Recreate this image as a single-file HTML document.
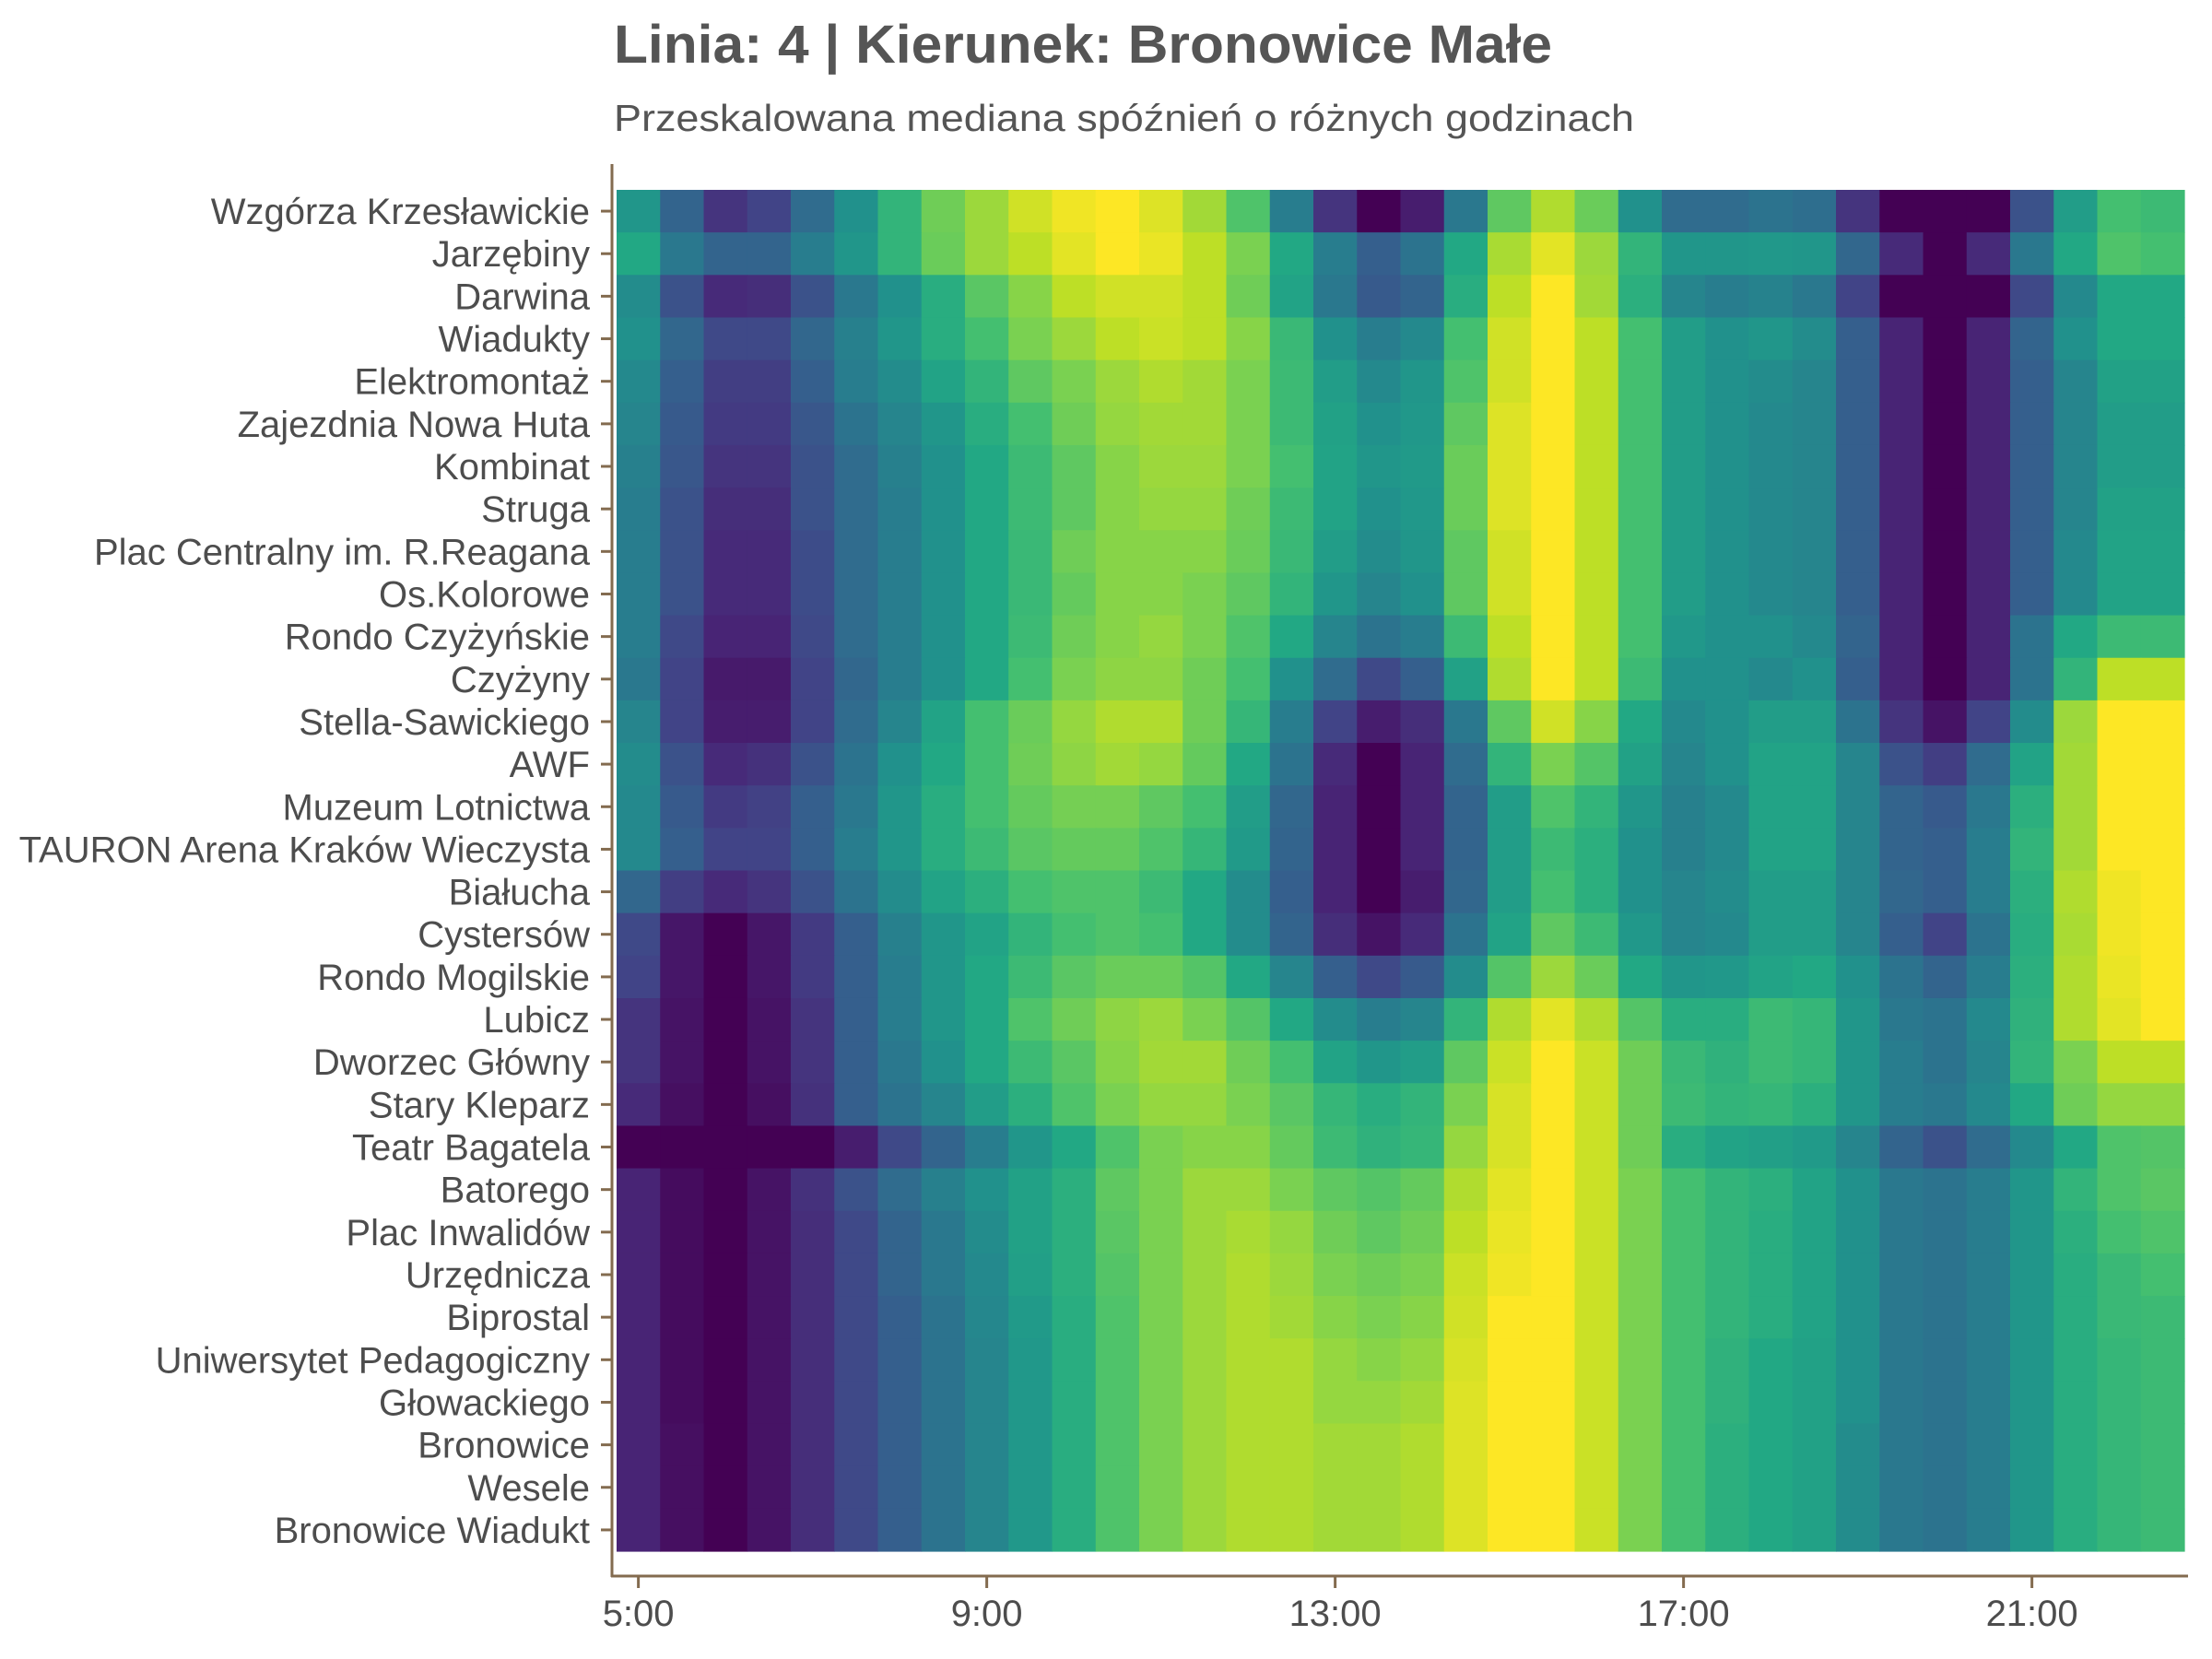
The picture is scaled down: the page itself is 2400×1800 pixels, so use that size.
<!DOCTYPE html>
<html><head><meta charset="utf-8"><style>
html,body{margin:0;padding:0;background:#fff;}
svg{display:block;font-family:"Liberation Sans",sans-serif;}
</style></head><body>
<svg id="chart" width="2400" height="1800" viewBox="0 0 2400 1800" xmlns="http://www.w3.org/2000/svg">
<text x="666" y="68" font-size="58" font-weight="bold" fill="#555555" textLength="1018" lengthAdjust="spacingAndGlyphs">Linia: 4 | Kierunek: Bronowice Małe</text>
<text x="666" y="142" font-size="41" fill="#555555" textLength="1107" lengthAdjust="spacingAndGlyphs">Przeskalowana mediana spóźnień o różnych godzinach</text>
<g id="cells"></g>
<g id="yaxis"></g>
<g id="xaxis"></g>
</svg>
<script>
const stops = ["Wzgórza Krzesławickie","Jarzębiny","Darwina","Wiadukty","Elektromontaż","Zajezdnia Nowa Huta","Kombinat","Struga","Plac Centralny im. R.Reagana","Os.Kolorowe","Rondo Czyżyńskie","Czyżyny","Stella-Sawickiego","AWF","Muzeum Lotnictwa","TAURON Arena Kraków Wieczysta","Białucha","Cystersów","Rondo Mogilskie","Lubicz","Dworzec Główny","Stary Kleparz","Teatr Bagatela","Batorego","Plac Inwalidów","Urzędnicza","Biprostal","Uniwersytet Pedagogiczny","Głowackiego","Bronowice","Wesele","Bronowice Wiadukt"];
const hours = [5,5.5,6,6.5,7,7.5,8,8.5,9,9.5,10,10.5,11,11.5,12,12.5,13,13.5,14,14.5,15,15.5,16,16.5,17,17.5,18,18.5,19,19.5,20,20.5,21,21.5,22,22.5];
const tickHours = [5,9,13,17,21];
const tickLabels = ["5:00","9:00","13:00","17:00","21:00"];
const values = [
[0.52,0.32,0.15,0.2,0.35,0.5,0.65,0.78,0.85,0.93,0.98,1.0,0.95,0.86,0.72,0.42,0.15,0.0, 0.08,0.4,0.75,0.88,0.77,0.5,0.35,0.35,0.38,0.36,0.15,0.0,0.0,0.0,0.25,0.55,0.7,0.68],
[0.6,0.4,0.32,0.32,0.42,0.52,0.65,0.77,0.85,0.9,0.96,1.0,0.97,0.9,0.8,0.6,0.42,0.3, 0.38,0.6,0.87,0.96,0.85,0.65,0.52,0.52,0.53,0.52,0.33,0.12,0.0,0.12,0.4,0.6,0.72,0.7],
[0.48,0.25,0.12,0.13,0.25,0.4,0.5,0.62,0.74,0.82,0.9,0.93,0.93,0.9,0.78,0.58,0.4,0.28, 0.32,0.62,0.9,1.0,0.86,0.63,0.45,0.42,0.44,0.4,0.2,0.0,0.0,0.0,0.22,0.47,0.6,0.6],
[0.5,0.33,0.22,0.22,0.33,0.43,0.52,0.62,0.7,0.8,0.85,0.9,0.92,0.9,0.82,0.67,0.5,0.42, 0.47,0.7,0.93,1.0,0.9,0.7,0.55,0.5,0.52,0.48,0.3,0.1,0.0,0.1,0.32,0.5,0.6,0.6],
[0.47,0.3,0.18,0.18,0.3,0.42,0.48,0.58,0.65,0.75,0.8,0.85,0.88,0.86,0.8,0.68,0.55,0.47, 0.52,0.72,0.93,1.0,0.9,0.7,0.55,0.5,0.48,0.45,0.3,0.1,0.0,0.1,0.3,0.45,0.57,0.57],
[0.45,0.28,0.17,0.17,0.27,0.38,0.45,0.52,0.62,0.7,0.78,0.84,0.86,0.86,0.8,0.68,0.57,0.5, 0.53,0.75,0.95,1.0,0.9,0.7,0.55,0.5,0.47,0.45,0.3,0.1,0.0,0.1,0.3,0.45,0.55,0.55],
[0.43,0.27,0.15,0.15,0.25,0.35,0.43,0.5,0.6,0.68,0.75,0.82,0.85,0.85,0.8,0.7,0.58,0.52, 0.54,0.77,0.95,1.0,0.9,0.7,0.55,0.5,0.47,0.45,0.3,0.1,0.0,0.1,0.3,0.45,0.55,0.55],
[0.42,0.25,0.13,0.13,0.25,0.35,0.42,0.5,0.6,0.68,0.75,0.82,0.84,0.84,0.78,0.68,0.58,0.5, 0.53,0.77,0.95,1.0,0.9,0.7,0.55,0.5,0.47,0.45,0.3,0.1,0.0,0.1,0.3,0.45,0.57,0.57],
[0.42,0.25,0.12,0.12,0.23,0.35,0.42,0.5,0.6,0.67,0.78,0.82,0.82,0.82,0.77,0.67,0.55,0.48, 0.52,0.75,0.93,1.0,0.9,0.7,0.55,0.5,0.47,0.45,0.3,0.1,0.0,0.1,0.3,0.47,0.58,0.58],
[0.42,0.25,0.12,0.12,0.23,0.35,0.42,0.5,0.6,0.67,0.76,0.82,0.82,0.8,0.75,0.65,0.52,0.45, 0.5,0.75,0.93,1.0,0.9,0.7,0.55,0.5,0.47,0.45,0.3,0.1,0.0,0.1,0.3,0.47,0.58,0.58],
[0.42,0.22,0.1,0.1,0.22,0.35,0.42,0.5,0.6,0.68,0.78,0.82,0.84,0.8,0.72,0.6,0.45,0.38, 0.42,0.68,0.9,1.0,0.9,0.7,0.53,0.5,0.5,0.47,0.32,0.1,0.0,0.1,0.38,0.6,0.68,0.68],
[0.4,0.2,0.07,0.07,0.2,0.33,0.42,0.5,0.6,0.7,0.8,0.83,0.83,0.78,0.7,0.5,0.35,0.22, 0.3,0.57,0.88,1.0,0.9,0.68,0.5,0.5,0.47,0.5,0.3,0.1,0.0,0.1,0.38,0.65,0.9,0.9],
[0.45,0.2,0.08,0.08,0.2,0.35,0.45,0.58,0.7,0.77,0.84,0.88,0.88,0.78,0.66,0.42,0.2,0.08, 0.13,0.4,0.75,0.93,0.82,0.6,0.47,0.5,0.55,0.55,0.38,0.15,0.05,0.2,0.48,0.85,1.0,1.0],
[0.48,0.25,0.12,0.14,0.25,0.38,0.5,0.6,0.7,0.78,0.83,0.86,0.84,0.76,0.6,0.38,0.12,0.0, 0.1,0.35,0.65,0.8,0.73,0.57,0.45,0.5,0.58,0.58,0.45,0.25,0.18,0.35,0.58,0.86,1.0,1.0],
[0.47,0.28,0.17,0.19,0.3,0.4,0.52,0.62,0.7,0.76,0.79,0.79,0.75,0.7,0.55,0.33,0.1,0.0, 0.1,0.32,0.55,0.72,0.65,0.52,0.43,0.47,0.58,0.58,0.45,0.32,0.28,0.4,0.63,0.86,1.0,1.0],
[0.47,0.3,0.2,0.2,0.3,0.42,0.52,0.62,0.68,0.74,0.76,0.76,0.72,0.66,0.54,0.32,0.1,0.0, 0.1,0.32,0.55,0.68,0.63,0.5,0.43,0.47,0.58,0.58,0.45,0.32,0.3,0.42,0.65,0.86,1.0,1.0],
[0.33,0.18,0.12,0.15,0.25,0.38,0.48,0.58,0.63,0.7,0.72,0.72,0.68,0.6,0.48,0.3,0.1,0.0, 0.08,0.33,0.55,0.7,0.63,0.5,0.45,0.48,0.55,0.55,0.45,0.33,0.3,0.42,0.63,0.88,0.98,1.0],
[0.22,0.06,0.0,0.06,0.17,0.3,0.43,0.52,0.58,0.65,0.7,0.72,0.7,0.6,0.48,0.32,0.13,0.05, 0.12,0.38,0.58,0.75,0.68,0.53,0.45,0.47,0.55,0.55,0.45,0.3,0.2,0.38,0.62,0.87,0.98,1.0],
[0.2,0.06,0.0,0.06,0.17,0.3,0.42,0.52,0.6,0.68,0.74,0.77,0.77,0.73,0.6,0.45,0.3,0.22, 0.28,0.48,0.73,0.85,0.77,0.6,0.52,0.53,0.58,0.6,0.5,0.38,0.32,0.42,0.63,0.88,0.97,1.0],
[0.15,0.05,0.0,0.05,0.15,0.3,0.42,0.52,0.6,0.72,0.78,0.83,0.85,0.8,0.73,0.6,0.48,0.42, 0.45,0.65,0.88,0.96,0.88,0.73,0.62,0.62,0.68,0.66,0.52,0.4,0.38,0.47,0.64,0.88,0.96,1.0],
[0.15,0.05,0.0,0.05,0.15,0.3,0.4,0.5,0.6,0.68,0.74,0.82,0.86,0.86,0.78,0.7,0.58,0.52, 0.55,0.75,0.92,1.0,0.92,0.78,0.67,0.64,0.68,0.66,0.52,0.42,0.38,0.45,0.65,0.8,0.9,0.9],
[0.12,0.04,0.0,0.04,0.14,0.3,0.38,0.45,0.55,0.63,0.72,0.8,0.84,0.84,0.8,0.74,0.66,0.62, 0.65,0.8,0.94,1.0,0.92,0.78,0.68,0.65,0.66,0.63,0.52,0.42,0.4,0.47,0.6,0.78,0.84,0.84],
[0.0,0.0,0.0,0.0,0.0,0.08,0.22,0.32,0.42,0.52,0.6,0.72,0.8,0.82,0.82,0.76,0.68,0.64, 0.66,0.84,0.94,1.0,0.92,0.78,0.62,0.58,0.56,0.54,0.45,0.32,0.25,0.35,0.47,0.6,0.72,0.73],
[0.1,0.03,0.0,0.05,0.14,0.25,0.35,0.43,0.5,0.57,0.63,0.75,0.8,0.85,0.85,0.8,0.75,0.73, 0.76,0.88,0.96,1.0,0.92,0.8,0.7,0.65,0.63,0.58,0.5,0.4,0.38,0.42,0.52,0.65,0.72,0.74],
[0.1,0.03,0.0,0.05,0.13,0.22,0.32,0.4,0.48,0.57,0.63,0.74,0.8,0.85,0.87,0.84,0.78,0.75, 0.78,0.9,0.97,1.0,0.92,0.8,0.7,0.65,0.62,0.58,0.5,0.4,0.38,0.42,0.52,0.63,0.7,0.72],
[0.1,0.03,0.0,0.05,0.13,0.22,0.32,0.4,0.47,0.56,0.63,0.73,0.8,0.85,0.88,0.85,0.8,0.78, 0.8,0.92,0.98,1.0,0.92,0.8,0.7,0.65,0.62,0.58,0.5,0.4,0.38,0.42,0.52,0.62,0.67,0.7],
[0.1,0.03,0.0,0.05,0.13,0.22,0.3,0.38,0.46,0.54,0.62,0.72,0.8,0.85,0.88,0.86,0.82,0.8, 0.82,0.93,1.0,1.0,0.92,0.8,0.7,0.65,0.62,0.58,0.5,0.4,0.38,0.42,0.52,0.62,0.67,0.68],
[0.1,0.03,0.0,0.05,0.13,0.22,0.3,0.38,0.45,0.53,0.62,0.72,0.8,0.85,0.88,0.88,0.84,0.82, 0.84,0.94,1.0,1.0,0.92,0.8,0.7,0.64,0.6,0.57,0.5,0.4,0.38,0.42,0.52,0.62,0.66,0.68],
[0.1,0.03,0.0,0.05,0.13,0.22,0.3,0.38,0.45,0.53,0.62,0.72,0.8,0.85,0.88,0.88,0.84,0.84, 0.86,0.95,1.0,1.0,0.92,0.8,0.7,0.64,0.6,0.57,0.5,0.4,0.38,0.42,0.52,0.62,0.66,0.68],
[0.1,0.04,0.0,0.05,0.13,0.22,0.3,0.38,0.45,0.53,0.62,0.72,0.8,0.85,0.88,0.88,0.86,0.86, 0.88,0.95,1.0,1.0,0.92,0.8,0.7,0.63,0.6,0.57,0.48,0.4,0.38,0.42,0.52,0.62,0.66,0.68],
[0.1,0.04,0.0,0.05,0.13,0.22,0.3,0.38,0.45,0.53,0.62,0.72,0.8,0.85,0.88,0.88,0.86,0.86, 0.88,0.95,1.0,1.0,0.92,0.8,0.7,0.63,0.6,0.57,0.48,0.4,0.38,0.42,0.52,0.62,0.66,0.68],
[0.1,0.04,0.0,0.05,0.13,0.22,0.3,0.38,0.45,0.53,0.62,0.72,0.8,0.85,0.88,0.88,0.86,0.86, 0.88,0.95,1.0,1.0,0.92,0.8,0.7,0.63,0.6,0.57,0.48,0.4,0.38,0.42,0.52,0.62,0.66,0.68]
];

const NS = "http://www.w3.org/2000/svg";
const plot = {left:669, right:2370, top:206, bottom:1683};
const colW = (plot.right - plot.left) / hours.length;
const rowH = (plot.bottom - plot.top) / stops.length;
const h0 = hours[0];
function xScale(h){ return plot.left + ((h - h0) / 0.5) * colW; }
function xCenter(h){ return xScale(h) + colW/2; }
function yScale(i){ return plot.top + i * rowH; }
const vir = [[68,1,84],[72,36,117],[65,68,135],[53,95,141],[42,120,142],[33,145,140],[34,168,132],[68,191,112],[122,209,81],[189,223,38],[253,231,37]];
function color(v){
  v = Math.max(0, Math.min(1, v)) * 10;
  const i = Math.min(9, Math.floor(v)), t = v - i;
  const a = vir[i], b = vir[i+1];
  return "rgb(" + a.map((c,k)=>Math.round(c + (b[k]-c)*t)).join(",") + ")";
}
const cells = document.getElementById("cells");
values.forEach((row, r) => {
  row.forEach((v, c) => {
    const rect = document.createElementNS(NS, "rect");
    
    
    rect.setAttribute("x", xScale(hours[c]).toFixed(2));
    rect.setAttribute("y", yScale(r).toFixed(2));
    rect.setAttribute("width", (colW + 0.6).toFixed(2));
    rect.setAttribute("height", (rowH + 0.6).toFixed(2));
    rect.setAttribute("fill", color(v));
    cells.appendChild(rect);
  });
});
const axisCol = "#836b4f", textCol = "#4d4d4d";
const yaxis = document.getElementById("yaxis");
const yl = document.createElementNS(NS, "line");


yl.setAttribute("x1", 664); yl.setAttribute("x2", 664);
yl.setAttribute("y1", 178); yl.setAttribute("y2", 1711);
yl.setAttribute("stroke", axisCol); yl.setAttribute("stroke-width", 3);
yaxis.appendChild(yl);
stops.forEach((s, i) => {
  const cy = yScale(i) + rowH/2;
  const tk = document.createElementNS(NS, "line");
  
  
  tk.setAttribute("x1", 652); tk.setAttribute("x2", 664);
  tk.setAttribute("y1", cy); tk.setAttribute("y2", cy);
  tk.setAttribute("stroke", axisCol); tk.setAttribute("stroke-width", 3);
  yaxis.appendChild(tk);
  const t = document.createElementNS(NS, "text");
  
  
  t.setAttribute("x", 640); t.setAttribute("y", cy + 14);
  t.setAttribute("text-anchor", "end");
  t.setAttribute("font-size", 40);
  t.setAttribute("fill", textCol);
  t.textContent = s;
  yaxis.appendChild(t);
});
const xaxis = document.getElementById("xaxis");
const xl = document.createElementNS(NS, "line");


xl.setAttribute("x1", 663); xl.setAttribute("x2", 2374);
xl.setAttribute("y1", 1710); xl.setAttribute("y2", 1710);
xl.setAttribute("stroke", axisCol); xl.setAttribute("stroke-width", 3);
xaxis.appendChild(xl);
tickHours.forEach((h, i) => {
  const x = xCenter(h);
  const tk = document.createElementNS(NS, "line");
  
  
  tk.setAttribute("x1", x); tk.setAttribute("x2", x);
  tk.setAttribute("y1", 1710); tk.setAttribute("y2", 1723);
  tk.setAttribute("stroke", axisCol); tk.setAttribute("stroke-width", 3);
  xaxis.appendChild(tk);
  const t = document.createElementNS(NS, "text");
  
  
  t.setAttribute("x", x); t.setAttribute("y", 1764);
  t.setAttribute("text-anchor", "middle");
  t.setAttribute("font-size", 40);
  t.setAttribute("fill", textCol);
  t.textContent = tickLabels[i];
  xaxis.appendChild(t);
});
</script>
</body></html>
